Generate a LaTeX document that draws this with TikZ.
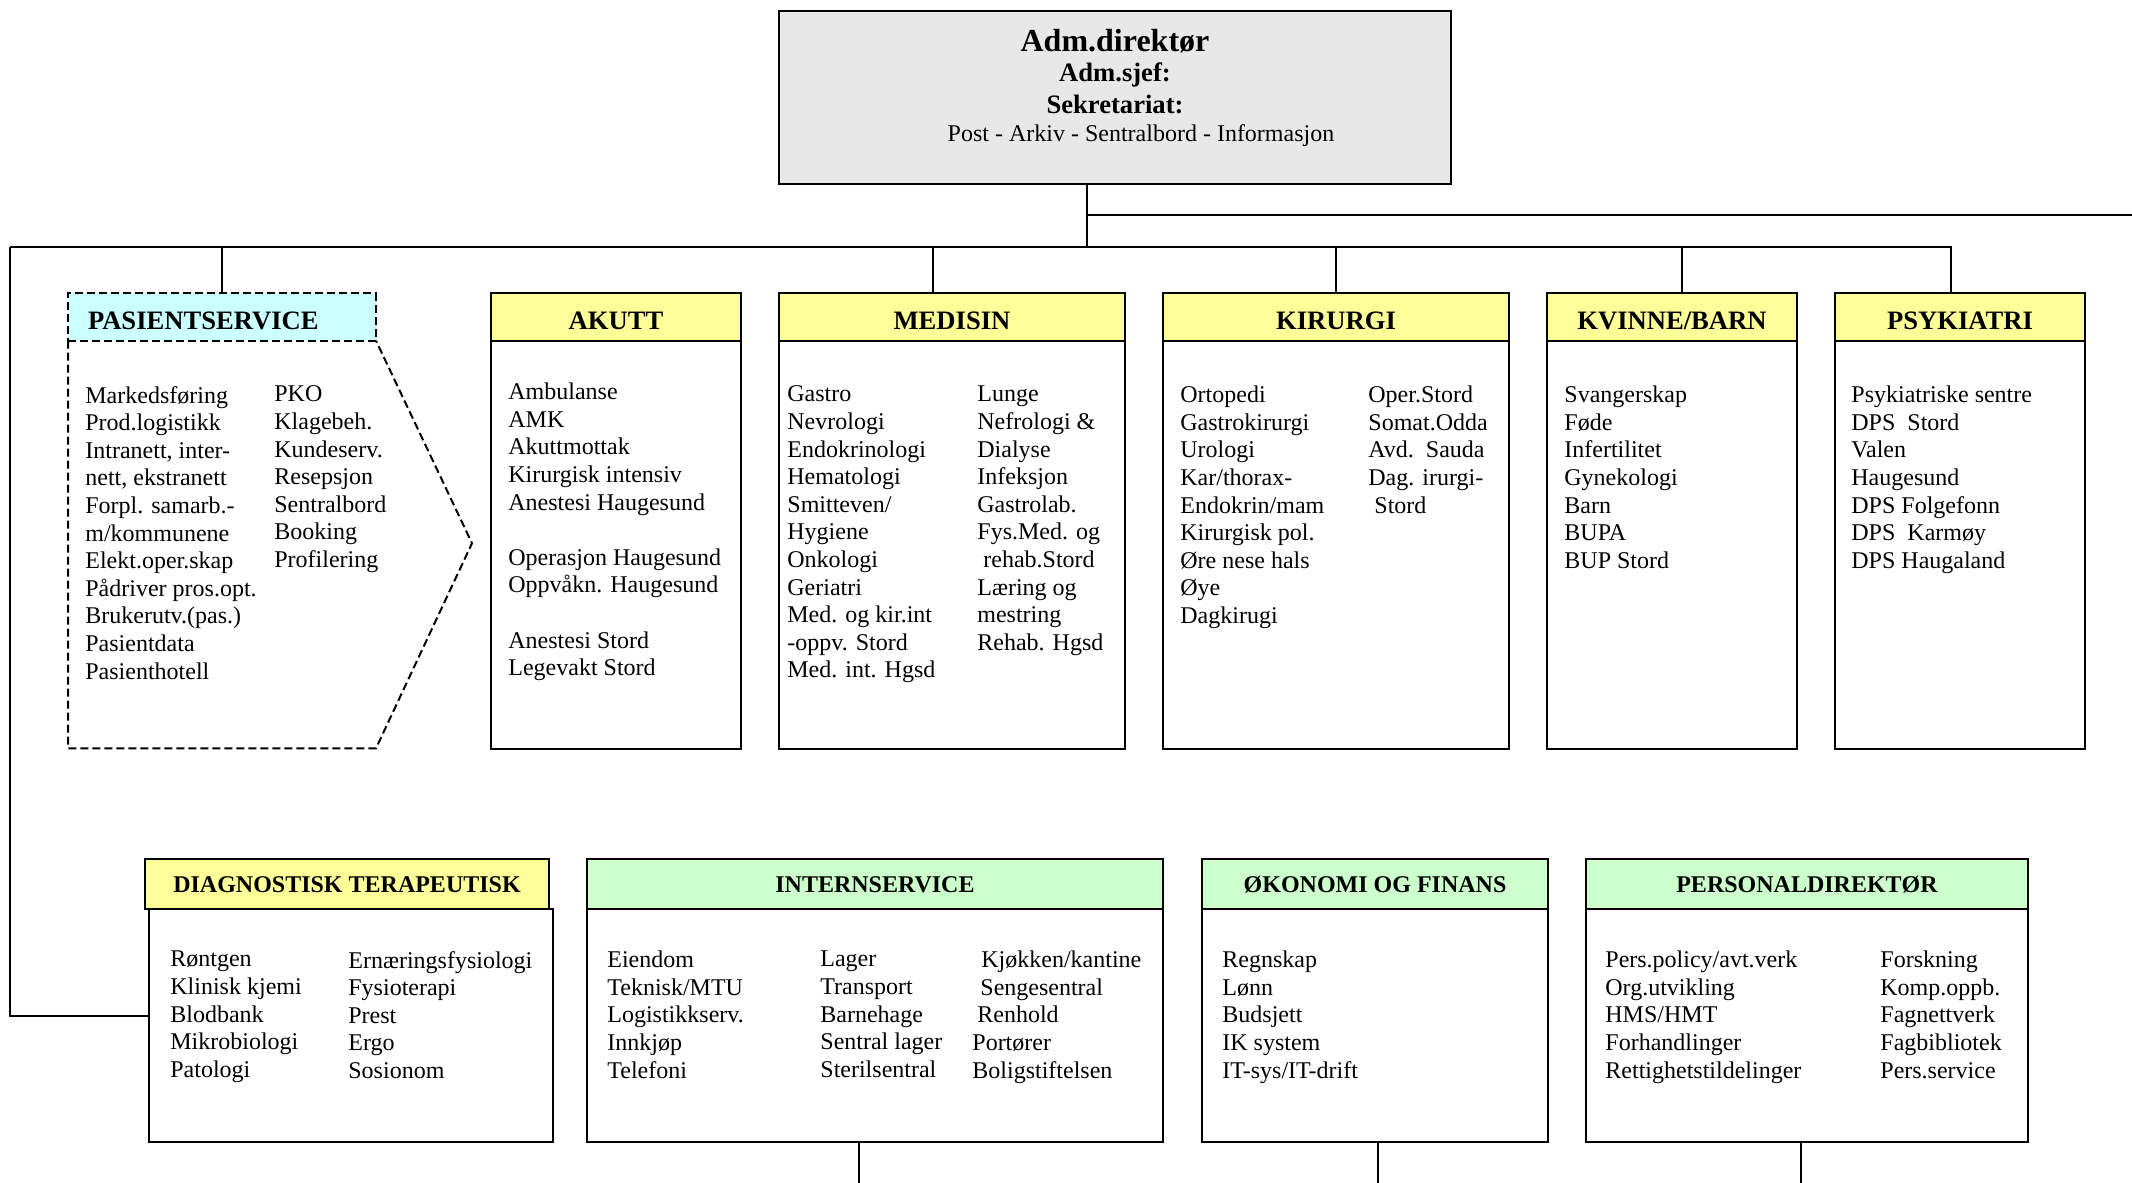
\documentclass[tikz,border=0pt]{standalone}
\usepackage{fontspec}
\setmainfont{Liberation Serif}
\definecolor{headyellow}{HTML}{FFFF99}
\definecolor{staffgreen}{HTML}{CCFFCC}
\definecolor{servicecyan}{HTML}{CCFFFF}
\definecolor{admgray}{HTML}{E8E8E8}
\tikzset{
  unit/.style={draw, line width=1pt, inner sep=0pt, outer sep=0pt, anchor=north west},
  clinhead/.style={unit, fill=headyellow, minimum height=23.7pt,
    font=\fontsize{13.3}{15}\selectfont\bfseries, text height=12.3pt, text depth=0pt},
  staffhead/.style={unit, fill=staffgreen, minimum height=25pt,
    font=\fontsize{12}{14}\selectfont\bfseries, text height=8pt, text depth=0pt},
  clinbody/.style={unit, fill=white, minimum height=204.15pt},
  staffbody/.style={unit, fill=white, minimum height=116.35pt},
  items/.style={anchor=north west, inner sep=0pt, align=left,
    font=\fontsize{12}{13.8}\selectfont, execute at begin node=\strut},
  title/.style={anchor=base, inner sep=0pt},
  link/.style={line width=1pt}
}
\begin{document}
\begin{tikzpicture}[x=0.5pt, y=-0.5pt]
	\useasboundingbox (0,0) rectangle (2132,1183);
	
	% ledelse
	\node[unit, fill=admgray, minimum width=336pt, minimum height=86.5pt] (adm) at (779,11) {};
	\node[title, font=\fontsize{16}{18}\selectfont\bfseries] (admdir) at (1115,51.7) {Adm.direktør};
	\node[title, font=\fontsize{13.3}{15}\selectfont\bfseries] (admsjef) at (1115,81.7) {Adm.sjef:};
	\node[title, font=\fontsize{13.3}{15}\selectfont\bfseries] (sekr) at (1115,113) {Sekretariat:};
	\node[title, font=\fontsize{12}{14}\selectfont] (post) at (1141,141.7) {Post - Arkiv - Sentralbord - Informasjon};
	
	% klinikker
	\node[clinhead, fill=servicecyan, dash pattern=on 4pt off 2pt, minimum width=154pt,
		text width=134pt, align=left, inner xsep=10pt] (pasient) at (68,293.3) {PASIENTSERVICE};
	\node[clinhead, minimum width=125pt] (akutt) at (491,293.3) {AKUTT};
	\node[clinhead, minimum width=173pt] (medisin) at (779,293.3) {MEDISIN};
	\node[clinhead, minimum width=173pt] (kirurgi) at (1163,293.3) {KIRURGI};
	\node[clinhead, minimum width=125pt] (kvinne) at (1547,293.3) {KVINNE/BARN};
	\node[clinhead, minimum width=125pt] (psyk) at (1835,293.3) {PSYKIATRI};
	
	\draw[line width=1pt, dash pattern=on 4pt off 2pt] (pasient.south west) |- (376,748.3) -- (472,543.3) -- (pasient.south east);
	\node[clinbody, minimum width=125pt] (akuttbody) at (akutt.south west) {};
	\node[clinbody, minimum width=173pt] (medisinbody) at (medisin.south west) {};
	\node[clinbody, minimum width=173pt] (kirurgibody) at (kirurgi.south west) {};
	\node[clinbody, minimum width=125pt] (kvinnebody) at (kvinne.south west) {};
	\node[clinbody, minimum width=125pt] (psykbody) at (psyk.south west) {};
	
	\node[items] (pasientA) at (85,385.7) {Markedsføring\\Prod.logistikk\\Intranett, inter-\\nett, ekstranett\\Forpl. samarb.-\\m/kommunene\\Elekt.oper.skap\\Pådriver pros.opt.\\Brukerutv.(pas.)\\Pasientdata\\Pasienthotell};
	\node[items] (pasientB) at (274,385.7) {PKO\\Klagebeh.\\Kundeserv.\\Resepsjon\\Sentralbord\\Booking\\Profilering};
	\node[items] (akuttA) at (508,382.7) {Ambulanse\\AMK\\Akuttmottak\\Kirurgisk intensiv\\Anestesi Haugesund\\[13.8pt]Operasjon Haugesund\\Oppvåkn. Haugesund\\[13.8pt]Anestesi Stord\\Legevakt Stord};
	\node[items] (medisinA) at (787,385.7) {Gastro\\Nevrologi\\Endokrinologi\\Hematologi\\Smitteven/\\Hygiene\\Onkologi\\Geriatri\\Med. og kir.int\\-oppv. Stord\\Med. int. Hgsd};
	\node[items] (medisinB) at (977,385.7) {Lunge\\Nefrologi \&\\Dialyse\\Infeksjon\\Gastrolab.\\Fys.Med. og\\\hspace{3pt}rehab.Stord\\Læring og\\mestring\\Rehab. Hgsd};
	\node[items] (kirurgiA) at (1180,385.7) {Ortopedi\\Gastrokirurgi\\Urologi\\Kar/thorax-\\Endokrin/mam\\Kirurgisk pol.\\Øre nese hals\\Øye\\Dagkirugi};
	\node[items] (kirurgiB) at (1368,385.7) {Oper.Stord\\Somat.Odda\\Avd.\ \ Sauda\\Dag. irurgi-\\\hspace{3pt}Stord};
	\node[items] (kvinneA) at (1564,385.7) {Svangerskap\\Føde\\Infertilitet\\Gynekologi\\Barn\\BUPA\\BUP Stord};
	\node[items] (psykA) at (1851,385.7) {Psykiatriske sentre\\DPS\ \ Stord\\Valen\\Haugesund\\DPS Folgefonn\\DPS\ \ Karmøy\\DPS Haugaland};
	
	% stab og service
	\node[staffhead, fill=headyellow, minimum width=202pt] (diag) at (145,859) {DIAGNOSTISK TERAPEUTISK};
	\node[staffhead, minimum width=288pt] (intern) at (587,859) {INTERNSERVICE};
	\node[staffhead, minimum width=173pt] (okonomi) at (1202,859) {ØKONOMI OG FINANS};
	\node[staffhead, minimum width=221pt] (personal) at (1586,859) {PERSONALDIREKTØR};
	
	\node[staffbody, minimum width=202pt] (diagbody) at (149,909) {};
	\node[staffbody, minimum width=288pt] (internbody) at (intern.south west) {};
	\node[staffbody, minimum width=173pt] (okonomibody) at (okonomi.south west) {};
	\node[staffbody, minimum width=221pt] (personalbody) at (personal.south west) {};
	
	\node[items] (diagA) at (170,950.7) {Røntgen\\Klinisk kjemi\\Blodbank\\Mikrobiologi\\Patologi};
	\node[items] (diagB) at (348,950.7) {Ernæringsfysiologi\\Fysioterapi\\Prest\\Ergo\\Sosionom};
	\node[items] (internA) at (607,950.7) {Eiendom\\Teknisk/MTU\\Logistikkserv.\\Innkjøp\\Telefoni};
	\node[items] (internB) at (820,950.7) {Lager\\Transport\\Barnehage\\Sentral lager\\Sterilsentral};
	\node[items] (internC) at (972,950.7) {\hspace{4.5pt}Kjøkken/kantine\\\hspace{4pt}Sengesentral\\\hspace{2.5pt}Renhold\\Portører\\Boligstiftelsen};
	\node[items] (okonomiA) at (1222,950.7) {Regnskap\\Lønn\\Budsjett\\IK system\\IT-sys/IT-drift};
	\node[items] (personalA) at (1605,950.7) {Pers.policy/avt.verk\\Org.utvikling\\HMS/HMT\\Forhandlinger\\Rettighetstildelinger};
	\node[items] (personalB) at (1880,950.7) {Forskning\\Komp.oppb.\\Fagnettverk\\Fagbibliotek\\Pers.service};
	
	% linjer
	\coordinate (busL) at (10,247);
	\coordinate (busR) at (1951,247);
	\coordinate (offR) at (2132,215);
	\coordinate (floor) at (0,1183);
	\coordinate (admfoot) at ([xshift=-14.2pt]adm.south);
	
	\draw[link] (admfoot) -- (admfoot |- busL);
	\draw[link] (admfoot |- offR) -- (offR);
	\draw[link] (busL) -- (busR) -- (busR |- psyk.north);
	\draw[link] (pasient.north) -- (pasient.north |- busL);
	\draw[link] ([xshift=-9.5pt]medisin.north) -- ([xshift=-9.5pt]medisin.north |- busL);
	\draw[link] (kirurgi.north) -- (kirurgi.north |- busL);
	\draw[link] ([xshift=4.8pt]kvinne.north) -- ([xshift=4.8pt]kvinne.north |- busL);
	\draw[link] (busL) |- ([yshift=4.8pt]diagbody.west);
	\draw[link] ([xshift=-7.8pt]internbody.south) -- ([xshift=-7.8pt]internbody.south |- floor);
	\draw[link] ([xshift=1.5pt]okonomibody.south) -- ([xshift=1.5pt]okonomibody.south |- floor);
	\draw[link] ([xshift=-3.2pt]personalbody.south) -- ([xshift=-3.2pt]personalbody.south |- floor);
\end{tikzpicture}
\end{document}
